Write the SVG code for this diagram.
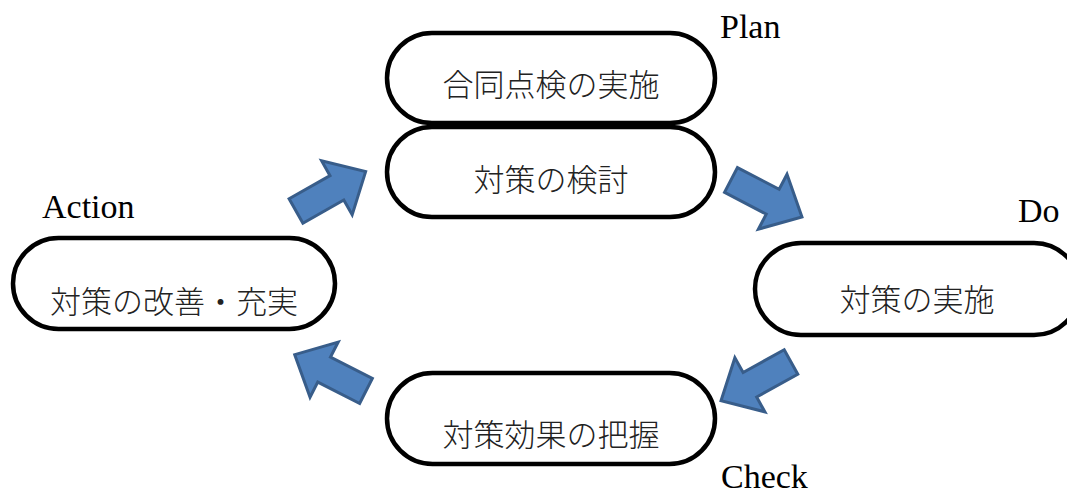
<svg xmlns="http://www.w3.org/2000/svg" width="1067" height="494" viewBox="0 0 1067 494">
<defs>
<style>
.box{fill:#fff;stroke:#000;stroke-width:4.5}
.jp{font-family:"Noto Sans CJK JP","Noto Sans",sans-serif;font-size:31px;font-weight:300;fill:#222;text-anchor:middle}
.lbl{font-family:"Liberation Serif",serif;font-size:34px;fill:#000}
.arr{fill:#4F81BD;stroke:#385D8A;stroke-width:3;stroke-linejoin:miter}
</style>
<polygon id="arrowShape" class="arr" points="0,-14 47,-14 47,-31 80,0 47,31 47,14 0,14"/>
</defs>
<rect width="1067" height="494" fill="#fff"/>
<g id="connectors">
<use href="#arrowShape" transform="translate(296,211) rotate(-29.5)"/>
<use href="#arrowShape" transform="translate(731,180) rotate(27.5)"/>
<use href="#arrowShape" transform="translate(791,362) rotate(151)"/>
<use href="#arrowShape" transform="translate(366,391) rotate(207)"/>
</g>
<g id="plan1">
<rect class="box" x="387" y="33" width="328" height="90" rx="45"/>
<text class="jp" x="551" y="96">合同点検の実施</text>
</g>
<g id="plan2">
<rect class="box" x="387" y="127" width="328" height="90" rx="45"/>
<text class="jp" x="551" y="191">対策の検討</text>
</g>
<g id="do">
<rect class="box" x="755" y="243" width="325" height="92" rx="46"/>
<text class="jp" x="917" y="311">対策の実施</text>
</g>
<g id="check">
<rect class="box" x="387" y="373" width="328" height="91" rx="45.5"/>
<text class="jp" x="551" y="446">対策効果の把握</text>
</g>
<g id="action">
<rect class="box" x="13" y="238" width="322" height="91" rx="45.5"/>
<text class="jp" x="174" y="313">対策の改善・充実</text>
</g>
<g id="labels">
<text class="lbl" x="720" y="38">Plan</text>
<text class="lbl" x="42" y="218">Action</text>
<text class="lbl" x="1018" y="222">Do</text>
<text class="lbl" x="721" y="488" font-size="33">Check</text>
</g>
</svg>
